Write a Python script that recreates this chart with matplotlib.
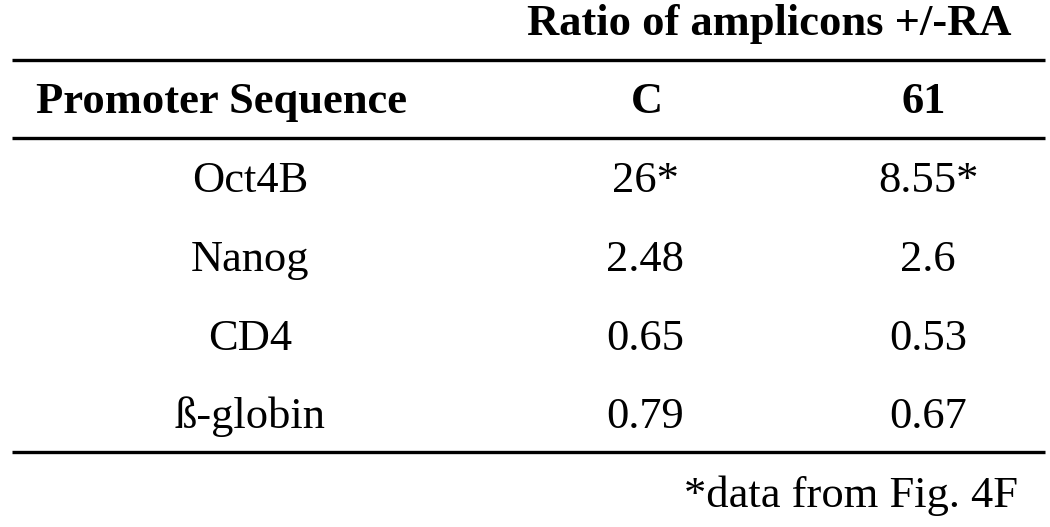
import matplotlib
matplotlib.use("Agg")
import matplotlib.pyplot as plt

# table content
group_title = "Ratio of amplicons +/-RA"
col_headers = ["Promoter Sequence", "C", "61"]
promoters = ["Oct4B", "Nanog", "CD4", "ß-globin"]
ratio_c = ["26*", "2.48", "0.65", "0.79"]
ratio_61 = ["8.55*", "2.6", "0.53", "0.67"]
footnote = "*data from Fig. 4F"

plt.rcParams.update({
    "font.family": ["Liberation Serif", "DejaVu Serif"],
    "font.size": 32,
})

fig = plt.figure(figsize=(10.5, 5.27), dpi=100)
ax = fig.add_axes([0, 0, 1, 1])
ax.set_xlim(0, 1050)
ax.set_ylim(527, 0)
ax.axis("off")

# layout in pixel coordinates
header_x = [222, 647, 924]
data_x = [250, 645, 928]
header_base = 113
row_base = [192, 271, 350, 428]

ax.text(769, 35, group_title, ha="center", va="baseline", fontweight="bold")
for x, label in zip(header_x, col_headers):
    ax.text(x, header_base, label, ha="center", va="baseline", fontweight="bold")

for y, name, c, s61 in zip(row_base, promoters, ratio_c, ratio_61):
    ax.text(data_x[0], y, name, ha="center", va="baseline")
    ax.text(data_x[1], y, c, ha="center", va="baseline")
    ax.text(data_x[2], y, s61, ha="center", va="baseline")

for y in (60, 138, 452):
    ax.plot([12, 1045], [y, y], color="black", linewidth=2.4, solid_capstyle="butt")

ax.text(851, 507, footnote, ha="center", va="baseline")

fig.savefig("out.png", dpi=100)
